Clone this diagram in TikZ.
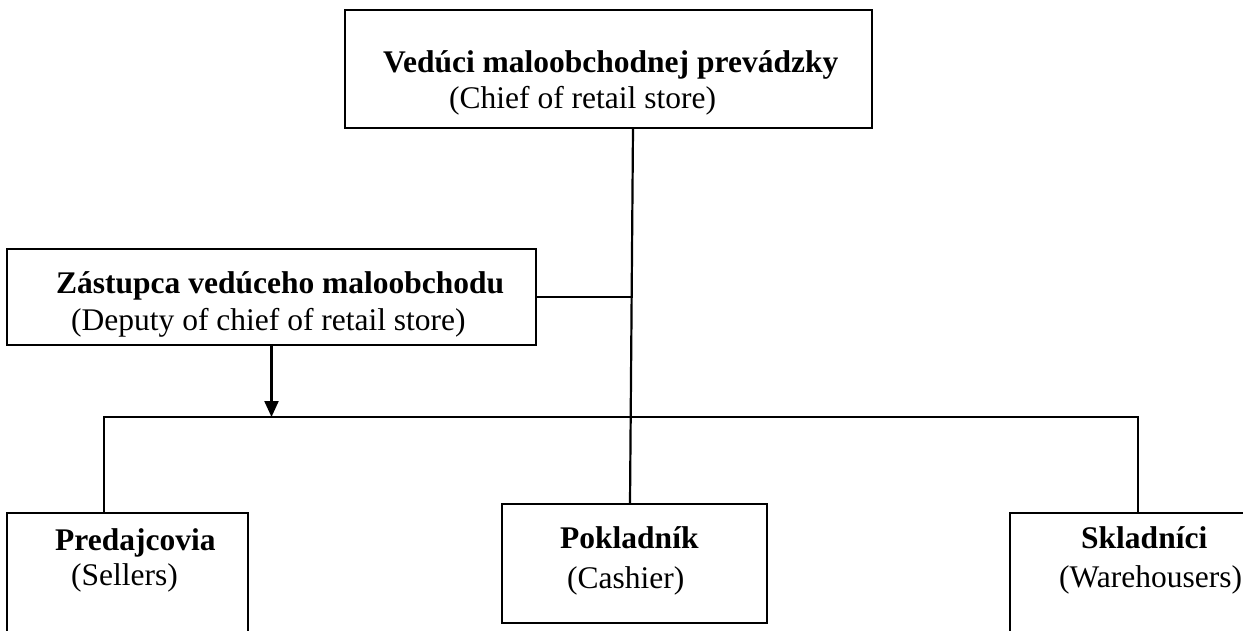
\documentclass[tikz,border=0pt]{standalone}
\usepackage{fontspec}
\setmainfont{Liberation Serif}
\usetikzlibrary{arrows.meta}
\begin{document}
\begin{tikzpicture}[x=1pt,y=-1pt,
  box/.style={draw, line width=2.2pt, rectangle, inner sep=0pt, outer sep=0pt},
  conn/.style={line width=2.2pt},
  lbl/.style={anchor=base west, inner sep=0pt, font=\fontsize{31.5}{38}\selectfont},
  blbl/.style={anchor=base west, inner sep=0pt, font=\fontsize{31.5}{38}\selectfont\bfseries}]
\clip (0,0) rectangle (1243,630);
\fill[white] (0,0) rectangle (1243,630);
% boxes
\node[box, minimum width=527pt, minimum height=118pt] (chief) at (608.5,69) {};
\node[box, minimum width=529pt, minimum height=96pt] (dep) at (271.5,297) {};
\node[box, minimum width=241pt, minimum height=119pt] (pred) at (127.5,572.5) {};
\node[box, minimum width=265pt, minimum height=119pt] (pok) at (634.5,563.5) {};
\node[box, minimum width=260pt, minimum height=119pt] (skl) at (1140,572.5) {};
% texts
\node[blbl] (t1) at (383,72) {Vedúci maloobchodnej prevádzky};
\node[lbl] (e1) at (449,108) {(Chief of retail store)};
\node[blbl] (t2) at (56,293) {Zástupca vedúceho maloobchodu};
\node[lbl] (e2) at (71,330) {(Deputy of chief of retail store)};
\node[blbl] (t3) at (55,550) {Predajcovia};
\node[lbl] (e3) at (71,585) {(Sellers)};
\node[blbl] (t4) at (560,548) {Pokladník};
\node[lbl] (e4) at (567,588) {(Cashier)};
\node[blbl] (t5) at (1081,548) {Skladníci};
\node[lbl] (e5) at (1059,587) {(Warehousers)};
% connectors
\coordinate (jt) at (633,128);
\coordinate (jb) at (630,504);
\coordinate (bl) at (104,417);
\coordinate (br) at (1138,417);
\draw[conn] (chief.south -| jt) -- (pok.north -| jb);
\draw[conn] (dep.east) -- (dep.east -| jt);
\draw[conn] (pred.north -| bl) -- (bl) -- (br) -- (skl.north -| br);
\draw[conn, -{Triangle[width=14pt,length=16pt]}] (dep.south) -- (dep.south |- bl);
\end{tikzpicture}
\end{document}
